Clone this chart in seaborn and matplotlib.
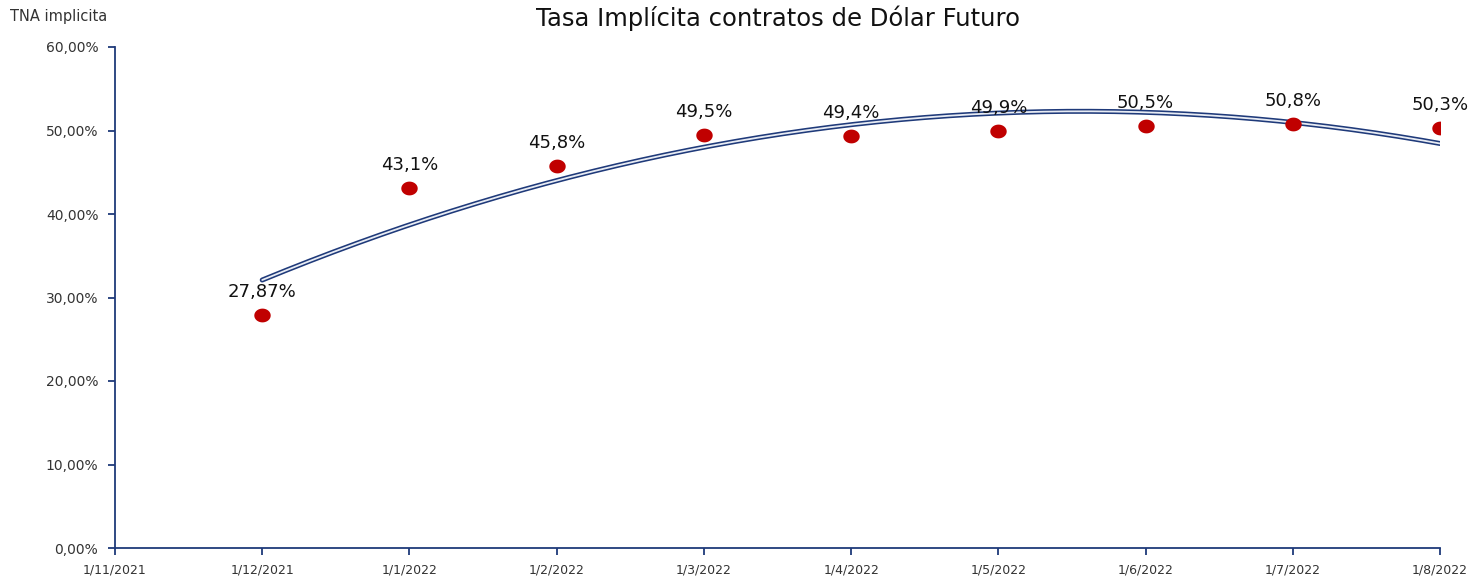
import matplotlib
matplotlib.use('Agg')
import matplotlib.pyplot as plt
import numpy as np
import pandas as pd
import seaborn as sns

# datos del grafico
fechas = ['1/11/2021', '1/12/2021', '1/1/2022', '1/2/2022', '1/3/2022',
          '1/4/2022', '1/5/2022', '1/6/2022', '1/7/2022', '1/8/2022']
posicion = [1, 2, 3, 4, 5, 6, 7, 8, 9]
tasa = [27.87, 43.1, 45.8, 49.5, 49.4, 49.9, 50.5, 50.8, 50.3]
etiquetas = ['27,87%', '43,1%', '45,8%', '49,5%', '49,4%', '49,9%', '50,5%', '50,8%', '50,3%']

sns.set_theme(style='white')
plt.rcParams['font.family'] = ['DejaVu Sans']

azul = '#1F3A7A'
rojo = '#C00000'

df = pd.DataFrame({'x': posicion, 'tasa': tasa})

# linea de tendencia polinomica (orden 2), como en Excel
coef = np.polyfit(df['x'], df['tasa'], 2)
xt = np.linspace(posicion[0], posicion[-1], 200)
tend = pd.DataFrame({'x': xt, 'y': np.polyval(coef, xt)})

fig = plt.figure(figsize=(14.76, 5.8), dpi=100)
ax = fig.add_axes([115 / 1476, 1 - 548 / 580, (1440 - 115) / 1476, (548 - 47) / 580])

sns.lineplot(data=tend, x='x', y='y', ax=ax, color=azul, lw=3.6, zorder=2)
sns.lineplot(data=tend, x='x', y='y', ax=ax, color='#E8ECF4', lw=1.3, zorder=3)
# puntos algo achatados, como en Excel
sns.scatterplot(data=df, x='x', y='tasa', ax=ax, color=rojo, s=140,
                marker=np.array([[np.cos(t), 0.84 * np.sin(t)] for t in np.linspace(0, 2 * np.pi, 40)]),
                linewidth=0, zorder=4)

for xi, yi, lab in zip(posicion, tasa, etiquetas):
    ax.annotate(lab, (xi, yi), textcoords='offset points', xytext=(0, 10),
                ha='center', va='bottom', fontsize=13, color='#111111', zorder=5)

ax.set_xlim(0, 9)
ax.set_ylim(0, 60)
ax.set_xticks(range(len(fechas)))
ax.set_xticklabels(fechas)
ax.set_yticks(range(0, 61, 10))
ax.set_yticklabels([f'{v},00%' for v in range(0, 61, 10)])
ax.set_xlabel('')
ax.set_ylabel('')

for s in ['top', 'right']:
    ax.spines[s].set_visible(False)
for s in ['left', 'bottom']:
    ax.spines[s].set_color(azul)
    ax.spines[s].set_linewidth(1.3)
ax.tick_params(axis='both', which='major', direction='out', length=5, width=1.3,
               color=azul, labelcolor='#333333', bottom=True, left=True)
ax.tick_params(axis='x', pad=6, labelsize=9)
ax.tick_params(axis='y', pad=7, labelsize=10)

ax.set_title('Tasa Implícita contratos de Dólar Futuro', fontsize=17.5, color='#111111', pad=15)
fig.text(10 / 1476, 1 - 16 / 580, 'TNA implicita', fontsize=10.5, color='#333333',
         ha='left', va='center')

fig.savefig('out.png', dpi=100, facecolor='white')
